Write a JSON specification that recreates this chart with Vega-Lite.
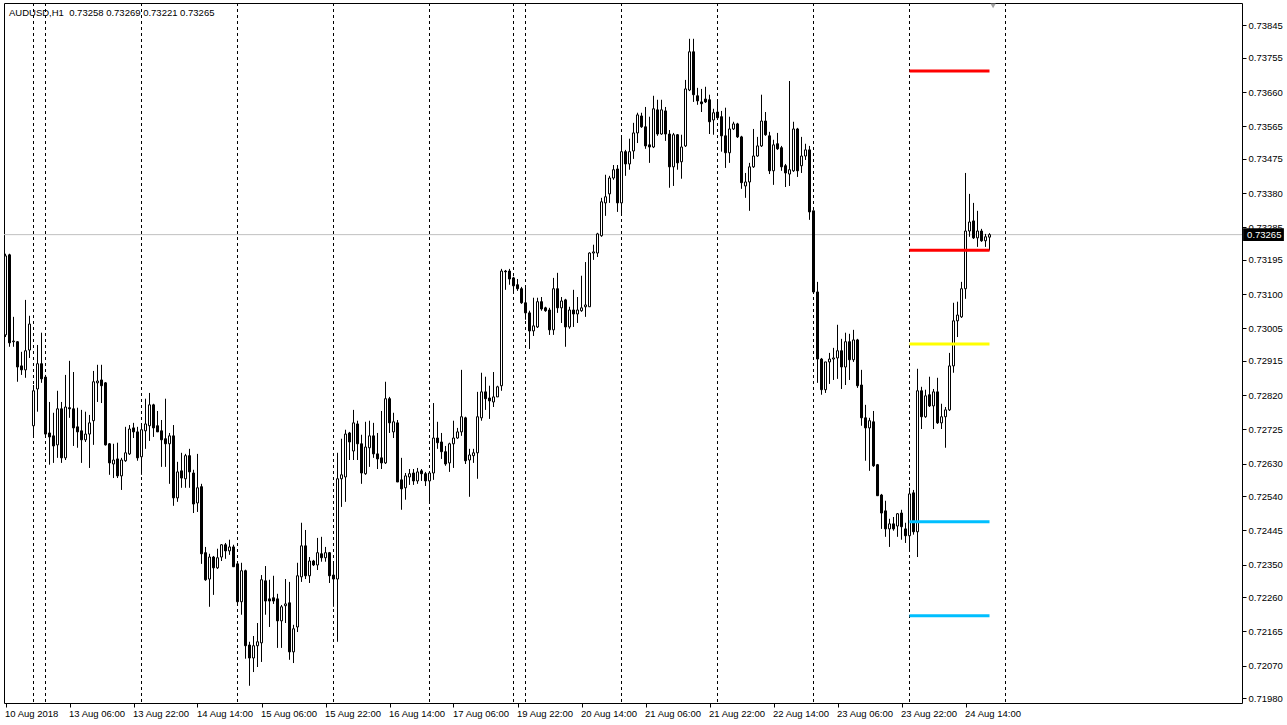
{
"$schema": "https://vega.github.io/schema/vega-lite/v6.json",
"width": 1238, "height": 700,
"autosize": {"type": "none"},
"padding": {"left": 4, "top": 3, "right": 45, "bottom": 22},
"background": "#ffffff",
"config": {"view": {"stroke": "#000000", "strokeWidth": 1}, "axis": {"labelFont": "Liberation Sans", "labelFontSize": 9.5, "labelColor": "#000000", "tickColor": "#000000", "domain": false, "grid": false, "labelOverlap": false, "labelFlush": false}},
"datasets": {
"seps": [{"i":7},{"i":10},{"i":34},{"i":58},{"i":82},{"i":106},{"i":127},{"i":130},{"i":154},{"i":178},{"i":202},{"i":226},{"i":250}],
"levels": [{"name":"R2","price":0.73719},{"name":"R1","price":0.73222},{"name":"P","price":0.72962},{"name":"S1","price":0.72469},{"name":"S2","price":0.72208}],
"candles": [
{"i":0,"o":0.72987,"h":0.73212,"l":0.72981,"c":0.73206},
{"i":1,"o":0.73209,"h":0.73212,"l":0.72954,"c":0.72965},
{"i":2,"o":0.72968,"h":0.73037,"l":0.72954,"c":0.72970},
{"i":3,"o":0.72968,"h":0.72970,"l":0.72857,"c":0.72898},
{"i":4,"o":0.72901,"h":0.72940,"l":0.72876,"c":0.72890},
{"i":5,"o":0.72890,"h":0.73084,"l":0.72868,"c":0.72943},
{"i":6,"o":0.72945,"h":0.73040,"l":0.72923,"c":0.73017},
{"i":7,"o":0.72735,"h":0.72848,"l":0.72701,"c":0.72832},
{"i":8,"o":0.72837,"h":0.72959,"l":0.72774,"c":0.72907},
{"i":9,"o":0.72907,"h":0.72993,"l":0.72854,"c":0.72865},
{"i":10,"o":0.72870,"h":0.72876,"l":0.72704,"c":0.72712},
{"i":11,"o":0.72715,"h":0.72801,"l":0.72627,"c":0.72704},
{"i":12,"o":0.72707,"h":0.72771,"l":0.72632,"c":0.72679},
{"i":13,"o":0.72682,"h":0.72832,"l":0.72646,"c":0.72782},
{"i":14,"o":0.72782,"h":0.72801,"l":0.72632,"c":0.72646},
{"i":15,"o":0.72646,"h":0.72876,"l":0.72640,"c":0.72787},
{"i":16,"o":0.72785,"h":0.72915,"l":0.72757,"c":0.72782},
{"i":17,"o":0.72782,"h":0.72884,"l":0.72679,"c":0.72729},
{"i":18,"o":0.72732,"h":0.72785,"l":0.72674,"c":0.72718},
{"i":19,"o":0.72721,"h":0.72779,"l":0.72632,"c":0.72696},
{"i":20,"o":0.72696,"h":0.72774,"l":0.72690,"c":0.72712},
{"i":21,"o":0.72712,"h":0.72765,"l":0.72618,"c":0.72743},
{"i":22,"o":0.72749,"h":0.72887,"l":0.72682,"c":0.72857},
{"i":23,"o":0.72854,"h":0.72904,"l":0.72801,"c":0.72859},
{"i":24,"o":0.72862,"h":0.72904,"l":0.72798,"c":0.72846},
{"i":25,"o":0.72854,"h":0.72856,"l":0.72680,"c":0.72682},
{"i":26,"o":0.72685,"h":0.72687,"l":0.72599,"c":0.72632},
{"i":27,"o":0.72629,"h":0.72685,"l":0.72590,"c":0.72640},
{"i":28,"o":0.72643,"h":0.72688,"l":0.72590,"c":0.72596},
{"i":29,"o":0.72596,"h":0.72646,"l":0.72557,"c":0.72640},
{"i":30,"o":0.72638,"h":0.72732,"l":0.72635,"c":0.72660},
{"i":31,"o":0.72657,"h":0.72737,"l":0.72654,"c":0.72726},
{"i":32,"o":0.72729,"h":0.72743,"l":0.72701,"c":0.72718},
{"i":33,"o":0.72718,"h":0.72732,"l":0.72638,"c":0.72646},
{"i":34,"o":0.72649,"h":0.72737,"l":0.72599,"c":0.72724},
{"i":35,"o":0.72721,"h":0.72810,"l":0.72671,"c":0.72740},
{"i":36,"o":0.72735,"h":0.72826,"l":0.72693,"c":0.72793},
{"i":37,"o":0.72793,"h":0.72796,"l":0.72704,"c":0.72729},
{"i":38,"o":0.72735,"h":0.72776,"l":0.72718,"c":0.72718},
{"i":39,"o":0.72721,"h":0.72751,"l":0.72621,"c":0.72696},
{"i":40,"o":0.72699,"h":0.72810,"l":0.72621,"c":0.72685},
{"i":41,"o":0.72685,"h":0.72715,"l":0.72574,"c":0.72707},
{"i":42,"o":0.72707,"h":0.72737,"l":0.72513,"c":0.72535},
{"i":43,"o":0.72535,"h":0.72635,"l":0.72524,"c":0.72607},
{"i":44,"o":0.72610,"h":0.72660,"l":0.72563,"c":0.72590},
{"i":45,"o":0.72588,"h":0.72657,"l":0.72563,"c":0.72652},
{"i":46,"o":0.72652,"h":0.72671,"l":0.72563,"c":0.72607},
{"i":47,"o":0.72604,"h":0.72613,"l":0.72493,"c":0.72518},
{"i":48,"o":0.72521,"h":0.72657,"l":0.72496,"c":0.72563},
{"i":49,"o":0.72566,"h":0.72574,"l":0.72352,"c":0.72380},
{"i":50,"o":0.72383,"h":0.72399,"l":0.72305,"c":0.72308},
{"i":51,"o":0.72310,"h":0.72380,"l":0.72233,"c":0.72371},
{"i":52,"o":0.72371,"h":0.72374,"l":0.72266,"c":0.72341},
{"i":53,"o":0.72341,"h":0.72394,"l":0.72338,"c":0.72369},
{"i":54,"o":0.72371,"h":0.72407,"l":0.72360,"c":0.72405},
{"i":55,"o":0.72405,"h":0.72410,"l":0.72366,"c":0.72388},
{"i":56,"o":0.72388,"h":0.72419,"l":0.72377,"c":0.72399},
{"i":57,"o":0.72399,"h":0.72405,"l":0.72344,"c":0.72344},
{"i":58,"o":0.72352,"h":0.72355,"l":0.72238,"c":0.72247},
{"i":59,"o":0.72247,"h":0.72355,"l":0.72211,"c":0.72333},
{"i":60,"o":0.72333,"h":0.72336,"l":0.72089,"c":0.72125},
{"i":61,"o":0.72127,"h":0.72136,"l":0.72014,"c":0.72091},
{"i":62,"o":0.72091,"h":0.72152,"l":0.72052,"c":0.72125},
{"i":63,"o":0.72125,"h":0.72188,"l":0.72066,"c":0.72136},
{"i":64,"o":0.72133,"h":0.72321,"l":0.72080,"c":0.72308},
{"i":65,"o":0.72305,"h":0.72346,"l":0.72211,"c":0.72249},
{"i":66,"o":0.72255,"h":0.72308,"l":0.72177,"c":0.72249},
{"i":67,"o":0.72258,"h":0.72319,"l":0.72241,"c":0.72249},
{"i":68,"o":0.72255,"h":0.72269,"l":0.72119,"c":0.72194},
{"i":69,"o":0.72194,"h":0.72238,"l":0.72119,"c":0.72233},
{"i":70,"o":0.72236,"h":0.72310,"l":0.72188,"c":0.72241},
{"i":71,"o":0.72244,"h":0.72302,"l":0.72086,"c":0.72108},
{"i":72,"o":0.72108,"h":0.72183,"l":0.72077,"c":0.72172},
{"i":73,"o":0.72177,"h":0.72355,"l":0.72163,"c":0.72319},
{"i":74,"o":0.72316,"h":0.72466,"l":0.72302,"c":0.72402},
{"i":75,"o":0.72402,"h":0.72446,"l":0.72310,"c":0.72319},
{"i":76,"o":0.72319,"h":0.72371,"l":0.72299,"c":0.72360},
{"i":77,"o":0.72360,"h":0.72363,"l":0.72346,"c":0.72349},
{"i":78,"o":0.72349,"h":0.72424,"l":0.72335,"c":0.72383},
{"i":79,"o":0.72380,"h":0.72427,"l":0.72358,"c":0.72369},
{"i":80,"o":0.72369,"h":0.72399,"l":0.72358,"c":0.72383},
{"i":81,"o":0.72383,"h":0.72385,"l":0.72299,"c":0.72319},
{"i":82,"o":0.72321,"h":0.72358,"l":0.72233,"c":0.72310},
{"i":83,"o":0.72310,"h":0.72660,"l":0.72136,"c":0.72588},
{"i":84,"o":0.72588,"h":0.72699,"l":0.72510,"c":0.72599},
{"i":85,"o":0.72593,"h":0.72724,"l":0.72524,"c":0.72712},
{"i":86,"o":0.72715,"h":0.72718,"l":0.72640,"c":0.72690},
{"i":87,"o":0.72665,"h":0.72779,"l":0.72640,"c":0.72743},
{"i":88,"o":0.72740,"h":0.72749,"l":0.72640,"c":0.72685},
{"i":89,"o":0.72685,"h":0.72710,"l":0.72574,"c":0.72604},
{"i":90,"o":0.72602,"h":0.72746,"l":0.72599,"c":0.72676},
{"i":91,"o":0.72674,"h":0.72749,"l":0.72621,"c":0.72707},
{"i":92,"o":0.72707,"h":0.72743,"l":0.72646,"c":0.72657},
{"i":93,"o":0.72657,"h":0.72715,"l":0.72615,"c":0.72643},
{"i":94,"o":0.72646,"h":0.72776,"l":0.72615,"c":0.72632},
{"i":95,"o":0.72632,"h":0.72857,"l":0.72629,"c":0.72810},
{"i":96,"o":0.72810,"h":0.72815,"l":0.72715,"c":0.72743},
{"i":97,"o":0.72718,"h":0.72771,"l":0.72701,"c":0.72746},
{"i":98,"o":0.72743,"h":0.72751,"l":0.72579,"c":0.72579},
{"i":99,"o":0.72585,"h":0.72646,"l":0.72502,"c":0.72560},
{"i":100,"o":0.72563,"h":0.72604,"l":0.72530,"c":0.72596},
{"i":101,"o":0.72593,"h":0.72615,"l":0.72571,"c":0.72602},
{"i":102,"o":0.72604,"h":0.72615,"l":0.72571,"c":0.72582},
{"i":103,"o":0.72582,"h":0.72618,"l":0.72574,"c":0.72607},
{"i":104,"o":0.72610,"h":0.72615,"l":0.72582,"c":0.72602},
{"i":105,"o":0.72602,"h":0.72607,"l":0.72568,"c":0.72582},
{"i":106,"o":0.72582,"h":0.72607,"l":0.72518,"c":0.72604},
{"i":107,"o":0.72604,"h":0.72798,"l":0.72585,"c":0.72701},
{"i":108,"o":0.72701,"h":0.72746,"l":0.72671,"c":0.72688},
{"i":109,"o":0.72690,"h":0.72715,"l":0.72643,"c":0.72663},
{"i":110,"o":0.72663,"h":0.72679,"l":0.72624,"c":0.72629},
{"i":111,"o":0.72632,"h":0.72688,"l":0.72607,"c":0.72685},
{"i":112,"o":0.72685,"h":0.72749,"l":0.72618,"c":0.72701},
{"i":113,"o":0.72701,"h":0.72729,"l":0.72699,"c":0.72718},
{"i":114,"o":0.72718,"h":0.72890,"l":0.72707,"c":0.72760},
{"i":115,"o":0.72757,"h":0.72760,"l":0.72629,"c":0.72638},
{"i":116,"o":0.72640,"h":0.72671,"l":0.72538,"c":0.72654},
{"i":117,"o":0.72652,"h":0.72671,"l":0.72632,"c":0.72660},
{"i":118,"o":0.72660,"h":0.72829,"l":0.72588,"c":0.72760},
{"i":119,"o":0.72757,"h":0.72882,"l":0.72749,"c":0.72829},
{"i":120,"o":0.72829,"h":0.72871,"l":0.72779,"c":0.72810},
{"i":121,"o":0.72812,"h":0.72846,"l":0.72754,"c":0.72804},
{"i":122,"o":0.72801,"h":0.72884,"l":0.72787,"c":0.72815},
{"i":123,"o":0.72815,"h":0.72846,"l":0.72815,"c":0.72843},
{"i":124,"o":0.72846,"h":0.73170,"l":0.72832,"c":0.73164},
{"i":125,"o":0.73164,"h":0.73167,"l":0.73112,"c":0.73162},
{"i":126,"o":0.73164,"h":0.73170,"l":0.73126,"c":0.73142},
{"i":127,"o":0.73145,"h":0.73148,"l":0.73101,"c":0.73123},
{"i":128,"o":0.73126,"h":0.73142,"l":0.73109,"c":0.73115},
{"i":129,"o":0.73115,"h":0.73120,"l":0.73073,"c":0.73076},
{"i":130,"o":0.73076,"h":0.73120,"l":0.73029,"c":0.73048},
{"i":131,"o":0.73048,"h":0.73054,"l":0.72948,"c":0.72998},
{"i":132,"o":0.72998,"h":0.73090,"l":0.72984,"c":0.73012},
{"i":133,"o":0.73009,"h":0.73090,"l":0.73006,"c":0.73079},
{"i":134,"o":0.73079,"h":0.73092,"l":0.73054,"c":0.73059},
{"i":135,"o":0.73062,"h":0.73065,"l":0.73051,"c":0.73054},
{"i":136,"o":0.73056,"h":0.73062,"l":0.72987,"c":0.73001},
{"i":137,"o":0.73001,"h":0.73145,"l":0.72987,"c":0.73115},
{"i":138,"o":0.73115,"h":0.73159,"l":0.73048,"c":0.73062},
{"i":139,"o":0.73062,"h":0.73092,"l":0.73020,"c":0.73081},
{"i":140,"o":0.73084,"h":0.73087,"l":0.72954,"c":0.73009},
{"i":141,"o":0.73009,"h":0.73065,"l":0.73004,"c":0.73056},
{"i":142,"o":0.73056,"h":0.73112,"l":0.73009,"c":0.73045},
{"i":143,"o":0.73045,"h":0.73092,"l":0.73020,"c":0.73056},
{"i":144,"o":0.73054,"h":0.73151,"l":0.73051,"c":0.73062},
{"i":145,"o":0.73065,"h":0.73189,"l":0.73037,"c":0.73070},
{"i":146,"o":0.73065,"h":0.73216,"l":0.73065,"c":0.73214},
{"i":147,"o":0.73214,"h":0.73237,"l":0.73195,"c":0.73217},
{"i":148,"o":0.73214,"h":0.73270,"l":0.73203,"c":0.73267},
{"i":149,"o":0.73262,"h":0.73367,"l":0.73259,"c":0.73356},
{"i":150,"o":0.73353,"h":0.73431,"l":0.73317,"c":0.73370},
{"i":151,"o":0.73378,"h":0.73428,"l":0.73353,"c":0.73422},
{"i":152,"o":0.73422,"h":0.73458,"l":0.73417,"c":0.73445},
{"i":153,"o":0.73447,"h":0.73458,"l":0.73328,"c":0.73353},
{"i":154,"o":0.73353,"h":0.73536,"l":0.73317,"c":0.73495},
{"i":155,"o":0.73495,"h":0.73500,"l":0.73428,"c":0.73461},
{"i":156,"o":0.73461,"h":0.73531,"l":0.73445,"c":0.73495},
{"i":157,"o":0.73497,"h":0.73575,"l":0.73475,"c":0.73547},
{"i":158,"o":0.73547,"h":0.73603,"l":0.73519,"c":0.73597},
{"i":159,"o":0.73594,"h":0.73603,"l":0.73561,"c":0.73564},
{"i":160,"o":0.73564,"h":0.73619,"l":0.73503,"c":0.73511},
{"i":161,"o":0.73514,"h":0.73592,"l":0.73464,"c":0.73508},
{"i":162,"o":0.73508,"h":0.73650,"l":0.73505,"c":0.73614},
{"i":163,"o":0.73611,"h":0.73639,"l":0.73539,"c":0.73544},
{"i":164,"o":0.73544,"h":0.73639,"l":0.73542,"c":0.73611},
{"i":165,"o":0.73608,"h":0.73619,"l":0.73525,"c":0.73544},
{"i":166,"o":0.73544,"h":0.73555,"l":0.73395,"c":0.73453},
{"i":167,"o":0.73453,"h":0.73547,"l":0.73400,"c":0.73542},
{"i":168,"o":0.73542,"h":0.73544,"l":0.73445,"c":0.73464},
{"i":169,"o":0.73467,"h":0.73542,"l":0.73420,"c":0.73508},
{"i":170,"o":0.73511,"h":0.73694,"l":0.73508,"c":0.73669},
{"i":171,"o":0.73666,"h":0.73808,"l":0.73663,"c":0.73772},
{"i":172,"o":0.73772,"h":0.73808,"l":0.73633,"c":0.73653},
{"i":173,"o":0.73650,"h":0.73672,"l":0.73625,"c":0.73636},
{"i":174,"o":0.73633,"h":0.73669,"l":0.73605,"c":0.73628},
{"i":175,"o":0.73641,"h":0.73675,"l":0.73630,"c":0.73633},
{"i":176,"o":0.73639,"h":0.73653,"l":0.73544,"c":0.73578},
{"i":177,"o":0.73583,"h":0.73614,"l":0.73542,"c":0.73603},
{"i":178,"o":0.73605,"h":0.73639,"l":0.73583,"c":0.73589},
{"i":179,"o":0.73592,"h":0.73608,"l":0.73495,"c":0.73539},
{"i":180,"o":0.73539,"h":0.73617,"l":0.73450,"c":0.73492},
{"i":181,"o":0.73492,"h":0.73592,"l":0.73464,"c":0.73558},
{"i":182,"o":0.73558,"h":0.73578,"l":0.73555,"c":0.73572},
{"i":183,"o":0.73572,"h":0.73575,"l":0.73533,"c":0.73536},
{"i":184,"o":0.73536,"h":0.73539,"l":0.73392,"c":0.73409},
{"i":185,"o":0.73400,"h":0.73436,"l":0.73367,"c":0.73411},
{"i":186,"o":0.73411,"h":0.73464,"l":0.73331,"c":0.73453},
{"i":187,"o":0.73453,"h":0.73558,"l":0.73450,"c":0.73483},
{"i":188,"o":0.73483,"h":0.73536,"l":0.73481,"c":0.73511},
{"i":189,"o":0.73511,"h":0.73653,"l":0.73508,"c":0.73580},
{"i":190,"o":0.73580,"h":0.73605,"l":0.73539,"c":0.73542},
{"i":191,"o":0.73539,"h":0.73550,"l":0.73433,"c":0.73442},
{"i":192,"o":0.73442,"h":0.73528,"l":0.73403,"c":0.73514},
{"i":193,"o":0.73517,"h":0.73547,"l":0.73500,"c":0.73503},
{"i":194,"o":0.73506,"h":0.73511,"l":0.73442,"c":0.73453},
{"i":195,"o":0.73456,"h":0.73461,"l":0.73397,"c":0.73436},
{"i":196,"o":0.73433,"h":0.73691,"l":0.73400,"c":0.73445},
{"i":197,"o":0.73442,"h":0.73578,"l":0.73439,"c":0.73558},
{"i":198,"o":0.73558,"h":0.73561,"l":0.73425,"c":0.73442},
{"i":199,"o":0.73456,"h":0.73536,"l":0.73436,"c":0.73483},
{"i":200,"o":0.73483,"h":0.73517,"l":0.73472,"c":0.73500},
{"i":201,"o":0.73500,"h":0.73511,"l":0.73306,"c":0.73328},
{"i":202,"o":0.73331,"h":0.73331,"l":0.73106,"c":0.73106},
{"i":203,"o":0.73106,"h":0.73134,"l":0.72854,"c":0.72920},
{"i":204,"o":0.72920,"h":0.72923,"l":0.72821,"c":0.72835},
{"i":205,"o":0.72835,"h":0.72912,"l":0.72826,"c":0.72912},
{"i":206,"o":0.72912,"h":0.72937,"l":0.72851,"c":0.72920},
{"i":207,"o":0.72920,"h":0.72951,"l":0.72862,"c":0.72923},
{"i":208,"o":0.72923,"h":0.73015,"l":0.72865,"c":0.72943},
{"i":209,"o":0.72943,"h":0.72976,"l":0.72837,"c":0.72898},
{"i":210,"o":0.72898,"h":0.72993,"l":0.72848,"c":0.72968},
{"i":211,"o":0.72968,"h":0.72990,"l":0.72862,"c":0.72918},
{"i":212,"o":0.72918,"h":0.73001,"l":0.72912,"c":0.72973},
{"i":213,"o":0.72973,"h":0.72976,"l":0.72840,"c":0.72846},
{"i":214,"o":0.72848,"h":0.72890,"l":0.72735,"c":0.72757},
{"i":215,"o":0.72757,"h":0.72793,"l":0.72638,"c":0.72729},
{"i":216,"o":0.72729,"h":0.72757,"l":0.72610,"c":0.72749},
{"i":217,"o":0.72746,"h":0.72776,"l":0.72621,"c":0.72624},
{"i":218,"o":0.72627,"h":0.72629,"l":0.72541,"c":0.72541},
{"i":219,"o":0.72543,"h":0.72546,"l":0.72449,"c":0.72493},
{"i":220,"o":0.72499,"h":0.72527,"l":0.72427,"c":0.72449},
{"i":221,"o":0.72449,"h":0.72477,"l":0.72399,"c":0.72463},
{"i":222,"o":0.72463,"h":0.72482,"l":0.72444,"c":0.72449},
{"i":223,"o":0.72457,"h":0.72493,"l":0.72427,"c":0.72491},
{"i":224,"o":0.72493,"h":0.72502,"l":0.72419,"c":0.72455},
{"i":225,"o":0.72449,"h":0.72466,"l":0.72410,"c":0.72430},
{"i":226,"o":0.72430,"h":0.72563,"l":0.72385,"c":0.72546},
{"i":227,"o":0.72549,"h":0.72557,"l":0.72433,"c":0.72441},
{"i":228,"o":0.72441,"h":0.72893,"l":0.72371,"c":0.72832},
{"i":229,"o":0.72832,"h":0.72843,"l":0.72726,"c":0.72760},
{"i":230,"o":0.72760,"h":0.72835,"l":0.72757,"c":0.72818},
{"i":231,"o":0.72821,"h":0.72871,"l":0.72787,"c":0.72790},
{"i":232,"o":0.72790,"h":0.72837,"l":0.72726,"c":0.72829},
{"i":233,"o":0.72829,"h":0.72868,"l":0.72740,"c":0.72743},
{"i":234,"o":0.72743,"h":0.72796,"l":0.72726,"c":0.72760},
{"i":235,"o":0.72760,"h":0.72787,"l":0.72674,"c":0.72779},
{"i":236,"o":0.72779,"h":0.72937,"l":0.72776,"c":0.72901},
{"i":237,"o":0.72901,"h":0.73076,"l":0.72882,"c":0.73026},
{"i":238,"o":0.73026,"h":0.73079,"l":0.72981,"c":0.73042},
{"i":239,"o":0.73037,"h":0.73134,"l":0.73034,"c":0.73115},
{"i":240,"o":0.73115,"h":0.73436,"l":0.73087,"c":0.73275},
{"i":241,"o":0.73275,"h":0.73378,"l":0.73259,"c":0.73300},
{"i":242,"o":0.73303,"h":0.73353,"l":0.73253,"c":0.73256},
{"i":243,"o":0.73256,"h":0.73331,"l":0.73231,"c":0.73275},
{"i":244,"o":0.73275,"h":0.73281,"l":0.73245,"c":0.73248},
{"i":245,"o":0.73248,"h":0.73267,"l":0.73231,"c":0.73259},
{"i":246,"o":0.73258,"h":0.73269,"l":0.73221,"c":0.73265}
]
},
"layer": [
{"data": {"name": "seps"}, "mark": {"type": "rule", "color": "#000000", "strokeWidth": 1, "strokeDash": [3, 3]},
 "encoding": {"x": {"field": "i", "type": "quantitative", "title": null, "scale": {"domain": [-0.375, 309.125], "nice": false, "zero": false, "padding": 0}}}},
{"data": {"values": [{"bid": 0.73265}]}, "mark": {"type": "rule", "color": "#c0c0c0", "strokeWidth": 1},
 "encoding": {"y": {"field": "bid", "type": "quantitative", "title": null, "scale": {"domain": [0.719662, 0.739073], "nice": false, "zero": false, "padding": 0}}}},
{"data": {"name": "candles"}, "mark": {"type": "rule", "color": "#000000", "strokeWidth": 1},
 "encoding": {
  "x": {"field": "i", "type": "quantitative", "title": null, "scale": {"domain": [-0.375, 309.125], "nice": false, "zero": false, "padding": 0},
        "axis": {"values": [0,16,32,48,64,80,96,112,128,144,160,176,192,208,224,240], "tickCount": 40, "labelExpr": "['10 Aug 2018','13 Aug 06:00','13 Aug 22:00','14 Aug 14:00','15 Aug 06:00','15 Aug 22:00','16 Aug 14:00','17 Aug 06:00','19 Aug 22:00','20 Aug 14:00','21 Aug 06:00','21 Aug 22:00','22 Aug 14:00','23 Aug 06:00','23 Aug 22:00','24 Aug 14:00'][round(datum.value/16)]", "labelAlign": "left", "labelBaseline": "top", "labelPadding": 1, "labelOffset": -1, "tickSize": 4, "labelOverlap": false, "labelFlush": false, "labelBound": false, "title": null}},
  "y": {"field": "l", "type": "quantitative", "title": null, "scale": {"domain": [0.719662, 0.739073], "nice": false, "zero": false, "padding": 0},
        "axis": {"orient": "right", "values": [0.7198,0.7207,0.72165,0.7226,0.7235,0.72445,0.7254,0.7263,0.72725,0.7282,0.72915,0.73005,0.731,0.73195,0.73285,0.7338,0.73475,0.73565,0.7366,0.73755,0.73845], "tickCount": 40, "format": ".5f", "tickSize": 4, "labelPadding": 2, "labelOverlap": false, "labelFlush": false, "labelBound": false, "title": null}},
  "y2": {"field": "h"}}},
{"data": {"name": "candles"}, "mark": {"type": "bar", "width": 2, "stroke": "#000000", "strokeWidth": 1},
 "encoding": {
  "x": {"field": "i", "type": "quantitative", "title": null, "scale": {"domain": [-0.375, 309.125], "nice": false, "zero": false, "padding": 0}},
  "y": {"field": "o", "type": "quantitative", "title": null, "scale": {"domain": [0.719662, 0.739073], "nice": false, "zero": false, "padding": 0}},
  "y2": {"field": "c"},
  "fill": {"condition": {"test": "datum.c >= datum.o", "value": "#ffffff"}, "value": "#000000"}}},
{"data": {"name": "levels"}, "mark": {"type": "rule", "strokeWidth": 3},
 "encoding": {
  "x": {"datum": 226, "type": "quantitative", "scale": {"domain": [-0.375, 309.125], "nice": false, "zero": false, "padding": 0}},
  "x2": {"datum": 246},
  "y": {"field": "price", "type": "quantitative", "title": null, "scale": {"domain": [0.719662, 0.739073], "nice": false, "zero": false, "padding": 0}},
  "color": {"field": "name", "type": "nominal", "scale": {"domain": ["R2","R1","P","S1","S2"], "range": ["#ff0000","#ff0000","#ffff00","#00bfff","#00bfff"]}, "legend": null}}},
{"data": {"values": [{"bid": 0.73265}]}, "mark": {"type": "rect", "color": "#000000"},
 "encoding": {
  "x": {"datum": 309.4, "type": "quantitative", "scale": {"domain": [-0.375, 309.125], "nice": false, "zero": false, "padding": 0}},
  "x2": {"datum": 319.6},
  "y": {"datum": 0.73283, "type": "quantitative", "scale": {"domain": [0.719662, 0.739073], "nice": false, "zero": false, "padding": 0}},
  "y2": {"datum": 0.73247}}},
{"data": {"values": [{"bid": 0.73265}]}, "mark": {"type": "text", "color": "#ffffff", "align": "left", "baseline": "middle", "font": "Liberation Sans", "fontSize": 9.5},
 "encoding": {
  "x": {"datum": 310.4, "type": "quantitative", "scale": {"domain": [-0.375, 309.125], "nice": false, "zero": false, "padding": 0}},
  "y": {"field": "bid", "type": "quantitative", "title": null, "scale": {"domain": [0.719662, 0.739073], "nice": false, "zero": false, "padding": 0}},
  "text": {"field": "bid", "type": "quantitative", "format": ".5f"}}},
{"data": {"values": [{"label": "AUDUSD,H1\u00a0 0.73258 0.73269 0.73221 0.73265"}]}, "mark": {"type": "text", "color": "#000000", "align": "left", "baseline": "middle", "font": "Liberation Sans", "fontSize": 9.5},
 "encoding": {
  "x": {"datum": 0.875, "type": "quantitative", "scale": {"domain": [-0.375, 309.125], "nice": false, "zero": false, "padding": 0}},
  "y": {"datum": 0.738796, "type": "quantitative", "scale": {"domain": [0.719662, 0.739073], "nice": false, "zero": false, "padding": 0}},
  "text": {"field": "label"}}},
{"data": {"values": [{"shift": 1}]}, "mark": {"type": "point", "shape": "triangle-down", "filled": true, "color": "#a0a0a0", "size": 30, "opacity": 1},
 "encoding": {
  "x": {"datum": 246.9, "type": "quantitative", "scale": {"domain": [-0.375, 309.125], "nice": false, "zero": false, "padding": 0}},
  "y": {"datum": 0.73899, "type": "quantitative", "scale": {"domain": [0.719662, 0.739073], "nice": false, "zero": false, "padding": 0}}}}
]
}
